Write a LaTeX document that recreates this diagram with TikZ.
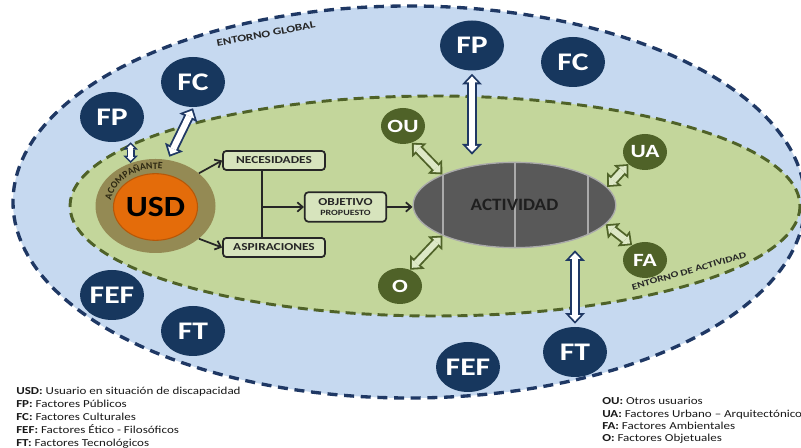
\documentclass[tikz,border=0pt]{standalone}
\usepackage{fontspec}
\setmainfont{Carlito}
\usepackage{graphicx}
\usetikzlibrary{shapes.geometric,arrows.meta,decorations.text,calc}

\definecolor{bgblue}{RGB}{198,217,240}
\definecolor{navy}{RGB}{31,56,100}
\definecolor{circnavy}{RGB}{23,55,94}
\definecolor{bggreen}{RGB}{195,214,155}
\definecolor{dkgreen}{RGB}{79,98,40}
\definecolor{ringbrown}{RGB}{148,138,84}
\definecolor{usdorange}{RGB}{228,108,10}
\definecolor{usdborder}{RGB}{182,87,8}
\definecolor{actgray}{RGB}{89,89,89}
\definecolor{actline}{RGB}{170,170,170}
\definecolor{boxfill}{RGB}{215,228,189}
\definecolor{boxline}{RGB}{38,38,38}
\definecolor{garrowin}{RGB}{221,232,198}
\definecolor{acotext}{RGB}{45,40,18}
\definecolor{legtext}{RGB}{25,25,25}

\newcommand{\sx}[2][1.25]{\scalebox{#1}[1]{#2}}
\newcommand{\acofont}{\fontsize{7.3pt}{8pt}\selectfont\bfseries}

\tikzset{
  darkc/.style={ellipse, fill=circnavy, minimum width=48pt, minimum height=37.5pt, inner sep=0pt, text=white, font=\fontsize{19pt}{20pt}\selectfont\bfseries},
  greenc/.style={ellipse, fill=dkgreen, minimum width=33pt, minimum height=27pt, inner sep=0pt, text=white, font=\fontsize{14pt}{15pt}\selectfont\bfseries},
  stepbox/.style={draw=boxline, line width=1.3pt, rounded corners=2.5pt, fill=boxfill, inner sep=0pt, font=\fontsize{8pt}{8pt}\selectfont\bfseries, text=boxline},
  thinarrow/.style={draw=boxline, line width=1.3pt, -{Straight Barb[length=4pt,width=7pt]}},
  thinline/.style={draw=boxline, line width=1.3pt},
  hollowarrow/.style 2 args={draw=#2, line width=4.6pt,
     {Triangle[length=4.5pt,width=8.5pt,line width=0pt]}-{Triangle[length=4.5pt,width=8.5pt,line width=0pt]},
     shorten <=2pt, shorten >=2pt,
     preaction={draw=#1, line width=7.4pt, shorten <=0pt, shorten >=0pt,
       {Triangle[length=8pt,width=15pt,line width=0pt]}-{Triangle[length=8pt,width=15pt,line width=0pt]}}},
  hollowsmall/.style 2 args={draw=#2, line width=3.6pt,
     {Triangle[length=2.6pt,width=5.4pt,line width=0pt]}-{Triangle[length=2.6pt,width=5.4pt,line width=0pt]},
     shorten <=1.7pt, shorten >=1.7pt,
     preaction={draw=#1, line width=6pt, shorten <=0pt, shorten >=0pt,
       {Triangle[length=5.5pt,width=11pt,line width=0pt]}-{Triangle[length=5.5pt,width=11pt,line width=0pt]}}},
  bluearrow/.style={hollowarrow={navy}{white}},
  bluesmall/.style={hollowsmall={navy}{white}},
  greenarrow/.style={hollowarrow={dkgreen}{garrowin}},
  legend/.style={anchor=base west, inner sep=0pt, font=\fontsize{8pt}{9pt}\selectfont, text=legtext},
  envlabel/.style={font=\bfseries, text=black!85, inner sep=0pt},
}

\begin{document}
\begin{tikzpicture}[x=0.75pt,y=-0.75pt]
\useasboundingbox (0,0) rectangle (801,448);
\clip (0,0) rectangle (801,448);
\fill[white] (0,0) rectangle (801,448);

% environments
\fill[bgblue] (409,202) ellipse [x radius=396, y radius=196];
\draw[navy, line width=2.5pt, dash pattern=on 7.5pt off 5pt] (409,202) ellipse [x radius=396, y radius=196];
\fill[bggreen] (435,206) ellipse [x radius=365, y radius=110];
\draw[dkgreen, line width=2.2pt, dash pattern=on 7.5pt off 4.5pt] (435,206) ellipse [x radius=365, y radius=110];

\node[envlabel, rotate=11, font=\fontsize{7.5pt}{8pt}\selectfont\bfseries] (eg) at (266,34) {\sx[1.3]{ENTORNO GLOBAL}};
\node[envlabel, rotate=16, font=\fontsize{6.6pt}{7pt}\selectfont\bfseries] (ea) at (689,271) {\sx[1.3]{ENTORNO DE ACTIVIDAD}};

% global factors
\node[darkc] (fpL) at (112,117) {\sx{FP}};
\node[darkc] (fcL) at (193,82) {\sx{FC}};
\node[darkc] (fpT) at (472,45.5) {\sx{FP}};
\node[darkc] (fcT) at (573,62) {\sx{FC}};
\node[darkc] (fefL) at (112,295) {\sx{FEF}};
\node[darkc] (ftL) at (193,331) {\sx{FT}};
\node[darkc] (fefB) at (468,367) {\sx{FEF}};
\node[darkc] (ftB) at (575,352) {\sx{FT}};

% activity factors
\node[greenc] (ou) at (403,126) {\sx{OU}};
\node[greenc] (o) at (400,286) {\sx{O}};
\node[greenc] (ua) at (645,152) {\sx{UA}};
\node[greenc] (fa) at (645,260) {\sx{FA}};

% user
\node[ellipse, fill=ringbrown, minimum width=90pt, minimum height=70.5pt, inner sep=0pt] (usdring) at (155.5,206) {};
\node[ellipse, fill=usdorange, draw=usdborder, line width=0.8pt, minimum width=63pt, minimum height=50pt, inner sep=0pt, font=\fontsize{22pt}{22pt}\selectfont\bfseries, text=black] (usd) at (155.5,207) {\sx[1.15]{USD}};
\path[decorate, decoration={text along path, text={|\acofont\color{acotext}|ACOMPAÑANTE}, text align=center}]
  ($(usdring.center)+(178:45 and 37)$) arc [start angle=178, end angle=288, x radius=45, y radius=37];

% activity
\node[ellipse, fill=actgray, draw=actline, line width=1pt, minimum width=152pt, minimum height=64pt, inner sep=0pt,
  font=\fontsize{13pt}{14pt}\selectfont\bfseries, text=black!88,
  path picture={\foreach \dx in {-53.6pt,0.4pt,55.1pt}
    \draw[actline, line width=1pt] ([xshift=\dx]path picture bounding box.north) -- ([xshift=\dx]path picture bounding box.south);}]
  (act) at (514.5,205) {\sx[1.1]{ACTIVIDAD}};

% boxes
\node[stepbox, minimum width=76.5pt, minimum height=14.3pt] (nec) at (274,160.5) {\sx{NECESIDADES}};
\node[stepbox, minimum width=76.5pt, minimum height=14.3pt] (asp) at (274,247.5) {\sx{ASPIRACIONES}};
\node[stepbox, minimum width=61pt, minimum height=22pt, align=center] (obj) at (345.5,207)
  {\sx{OBJETIVO}\\{\fontsize{6pt}{6pt}\selectfont\sx{PROPUESTO}}};

% thin connectors
\coordinate (jn) at (262,207);
\draw[thinarrow] (usdring.37) -- (nec.west);
\draw[thinarrow] (usdring.-37) -- (asp.west);
\draw[thinline] (jn |- nec.south) -- (jn |- asp.north);
\draw[thinarrow] (jn) -- (obj.west);
\draw[thinarrow] (obj.east) -- (obj.east -| act.west);

% hollow double arrows
\draw[bluearrow] ($(fpT.south)+(0,3)$) -- ($(fpT.south |- act.north)+(0,-7)$);
\draw[bluearrow] ($(ftB.north)+(0,-3)$) -- ($(ftB.north |- act.south)+(0,2)$);
\draw[bluearrow] ($(fcL.south)+(0,1)$) -- ($(usdring.75)!2.5pt!(fcL.south)$);
\draw[bluesmall] ($(fpL.south -| usdring.120)+(0,0)$) -- (usdring.120);
\draw[greenarrow] (ou.-62) -- (act.157);
\draw[greenarrow] (o.58) -- (act.203);
\draw[greenarrow] (ua.216) -- (act.11);
\draw[greenarrow] (fa.131) -- (act.-12);

% legends
\node[legend] (l1) at (16,395) {\sx[1.22]{\textbf{USD:} Usuario en situación de discapacidad}};
\node[legend] (l2) at (16,408) {\sx[1.22]{\textbf{FP:} Factores Públicos}};
\node[legend] (l3) at (16,421) {\sx[1.22]{\textbf{FC:} Factores Culturales}};
\node[legend] (l4) at (16,434) {\sx[1.22]{\textbf{FEF:} Factores Ético - Filosóficos}};
\node[legend] (l5) at (16,447) {\sx[1.22]{\textbf{FT:} Factores Tecnológicos}};
\node[legend] (r1) at (602,405) {\sx[1.22]{\textbf{OU:} Otros usuarios}};
\node[legend] (r2) at (602,417.5) {\sx[1.22]{\textbf{UA:} Factores Urbano -- Arquitectónicos}};
\node[legend] (r3) at (602,430) {\sx[1.22]{\textbf{FA:} Factores Ambientales}};
\node[legend] (r4) at (602,442) {\sx[1.22]{\textbf{O:} Factores Objetuales}};
\end{tikzpicture}
\end{document}
